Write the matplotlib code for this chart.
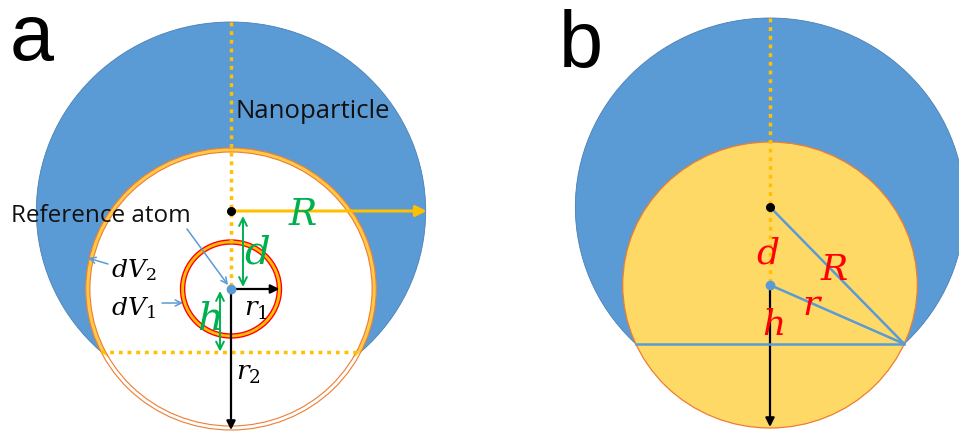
import numpy as np
import matplotlib
matplotlib.use("Agg")
import matplotlib.pyplot as plt
from matplotlib.patches import Ellipse

plt.rcParams['mathtext.fontset'] = 'dejavuserif'

# ==========================================
# Geometry (pixels, y grows downwards)
# ==========================================
STRETCH = 1.03                 # source picture is a little wider than tall

# panel a
A_X = 231
A_NP_Y, A_NP_R = 211, 189      # nanoparticle centre / radius R
A_ATOM_Y = 289                 # reference atom
A_SHELL_R = [141, 137]         # dV2 shell, outer / inner
A_SMALL_R = [49, 47, 45]       # dV1 shell, outer / band / inner

# panel b
B_X = 770
B_NP_Y, B_NP_R = 207, 189
B_ATOM_Y = 285
B_SPHERE_R = 143

PANEL_LABELS = ['a', 'b']

BLUE = '#5B9BD5'
GOLD = '#FFC000'
ORANGE = '#ED7D31'
GREEN = '#00B050'
RED = '#FF0000'


def cut_height(np_y, np_r, atom_y, r):
    """y of the plane where the sphere round the atom meets the particle surface."""
    d = atom_y - np_y
    h = (np_r ** 2 - d ** 2 - r ** 2) / (2 * d)
    half = np.sqrt(r ** 2 - h ** 2) * STRETCH
    return atom_y + h, half


def ell(ax, x, y, r, **kw):
    p = Ellipse((x, y), 2 * r * STRETCH, 2 * r, **kw)
    ax.add_patch(p)
    return p


def arrow(ax, start, end, color, lw, style='-|>', ms=14):
    ax.annotate('', xy=end, xytext=start,
                arrowprops=dict(arrowstyle=style, color=color, lw=lw,
                                mutation_scale=ms, shrinkA=0, shrinkB=0))


def dotted(ax, xs, ys):
    ax.plot(xs, ys, color=GOLD, lw=2.5, linestyle=(0, (1.1, 1.4)),
            dash_capstyle='butt', zorder=3)


fig = plt.figure(figsize=(9.59, 4.33), dpi=100)
ax = fig.add_axes([0, 0, 1, 1])
ax.set_xlim(0, 959)
ax.set_ylim(433, 0)
ax.axis('off')

# ==========================================
# Panel a
# ==========================================
np_a = ell(ax, A_X, A_NP_Y, A_NP_R, facecolor=BLUE, edgecolor='#4A7FB5', lw=0.6, zorder=1)
ell(ax, A_X, A_ATOM_Y, A_SHELL_R[0], facecolor='white', edgecolor='none', zorder=2)
band = ell(ax, A_X, A_ATOM_Y, A_SHELL_R[0], facecolor='#FFC94A', edgecolor='none', zorder=2)
band.set_clip_path(np_a)
ell(ax, A_X, A_ATOM_Y, A_SHELL_R[1], facecolor='white', edgecolor='none', zorder=2)
for r in A_SHELL_R:
    ell(ax, A_X, A_ATOM_Y, r, facecolor='none', edgecolor=ORANGE, lw=0.8, zorder=2)

ell(ax, A_X, A_ATOM_Y, A_SMALL_R[1], facecolor='none', edgecolor=GOLD, lw=2.2, zorder=2)
for r in (A_SMALL_R[0], A_SMALL_R[2]):
    ell(ax, A_X, A_ATOM_Y, r, facecolor='none', edgecolor=RED, lw=1.0, zorder=2)

cut_a, half_a = cut_height(A_NP_Y, A_NP_R, A_ATOM_Y, A_SHELL_R[0])
dotted(ax, [A_X, A_X], [A_NP_Y - A_NP_R, A_ATOM_Y])
dotted(ax, [A_X - half_a, A_X + half_a], [cut_a, cut_a])

# R arrow
arrow(ax, (A_X + 2, A_NP_Y), (A_X + A_NP_R * STRETCH + 1, A_NP_Y), GOLD, 2.2, ms=16)
ax.plot(A_X, A_NP_Y, 'o', color='black', ms=5.5, zorder=6)

# d and h
arrow(ax, (A_X + 12, A_NP_Y + 5), (A_X + 12, A_ATOM_Y - 2), GREEN, 1.4, '<->', ms=14)
arrow(ax, (A_X - 11, A_ATOM_Y + 2), (A_X - 11, cut_a), GREEN, 1.4, '<->', ms=14)

# r1 and r2
arrow(ax, (A_X + 2, A_ATOM_Y), (A_X + A_SMALL_R[0] * STRETCH - 2, A_ATOM_Y), 'black', 1.6, ms=13)
arrow(ax, (A_X, A_ATOM_Y + 2), (A_X, A_ATOM_Y + A_SHELL_R[0]), 'black', 1.6, ms=13)
ax.plot(A_X, A_ATOM_Y, 'o', color=BLUE, ms=6, zorder=6)

# pointers
arrow(ax, (187, 229), (A_X - 3, A_ATOM_Y - 4), BLUE, 1.1, '->', ms=11)
arrow(ax, (108, 264), (88, 258), BLUE, 1.1, '->', ms=11)
arrow(ax, (162, 303), (183, 303), BLUE, 1.1, '->', ms=11)

ax.text(10, 60, PANEL_LABELS[0], fontsize=57, family='Liberation Sans', va='baseline')
ax.text(236, 118, 'Nanoparticle', fontsize=18.5, family='Open Sans', va='baseline', color='#111111')
ax.text(11, 222, 'Reference atom', fontsize=17.5, family='Open Sans', va='baseline', color='#111111')

ax.text(303, 225, r'$R$', fontsize=27, color=GREEN, ha='center', va='baseline', zorder=7)
ax.text(257, 263, r'$d$', fontsize=29, color=GREEN, ha='center', va='baseline', zorder=7)
ax.text(209, 330, r'$h$', fontsize=29, color=GREEN, ha='center', va='baseline', zorder=7)
ax.text(244, 316, r'$r_1$', fontsize=19, color='black', va='baseline', zorder=7)
ax.text(236, 380, r'$r_2$', fontsize=19, color='black', va='baseline', zorder=7)
ax.text(111, 277, r'$dV_2$', fontsize=18, color='black', va='baseline', zorder=7)
ax.text(111, 315, r'$dV_1$', fontsize=18, color='black', va='baseline', zorder=7)

# ==========================================
# Panel b
# ==========================================
ell(ax, B_X, B_NP_Y, B_NP_R, facecolor=BLUE, edgecolor='#4A7FB5', lw=0.6, zorder=1)
ell(ax, B_X, B_ATOM_Y, B_SPHERE_R, facecolor='#FFD966', edgecolor=ORANGE, lw=0.9, zorder=2)

cut_b, half_b = cut_height(B_NP_Y, B_NP_R, B_ATOM_Y, B_SPHERE_R)
dotted(ax, [B_X, B_X], [B_NP_Y - B_NP_R, B_ATOM_Y])

edge = (B_X + half_b, cut_b)
ax.plot([B_X - half_b, edge[0]], [cut_b, cut_b], color=BLUE, lw=1.8, zorder=4)
ax.plot([B_X, edge[0]], [B_NP_Y, edge[1]], color=BLUE, lw=1.8, zorder=4)
ax.plot([B_X, edge[0]], [B_ATOM_Y, edge[1]], color=BLUE, lw=1.8, zorder=4)

arrow(ax, (B_X, B_ATOM_Y + 3), (B_X, B_ATOM_Y + B_SPHERE_R - 1), 'black', 1.6, ms=13)
ax.plot(B_X, B_NP_Y, 'o', color='black', ms=5.5, zorder=6)
ax.plot(B_X, B_ATOM_Y, 'o', color=BLUE, ms=6, zorder=6)

ax.text(559, 67, PANEL_LABELS[1], fontsize=57, family='Liberation Sans', va='baseline')

ax.text(768, 263, r'$d$', fontsize=26, color=RED, ha='center', va='baseline', zorder=7)
ax.text(834, 280, r'$R$', fontsize=26, color=RED, ha='center', va='baseline', zorder=7)
ax.text(813, 315, r'$r$', fontsize=26, color=RED, ha='center', va='baseline', zorder=7)
ax.text(773, 335, r'$h$', fontsize=26, color=RED, ha='center', va='baseline', zorder=7)

fig.savefig('out.png', dpi=100)
